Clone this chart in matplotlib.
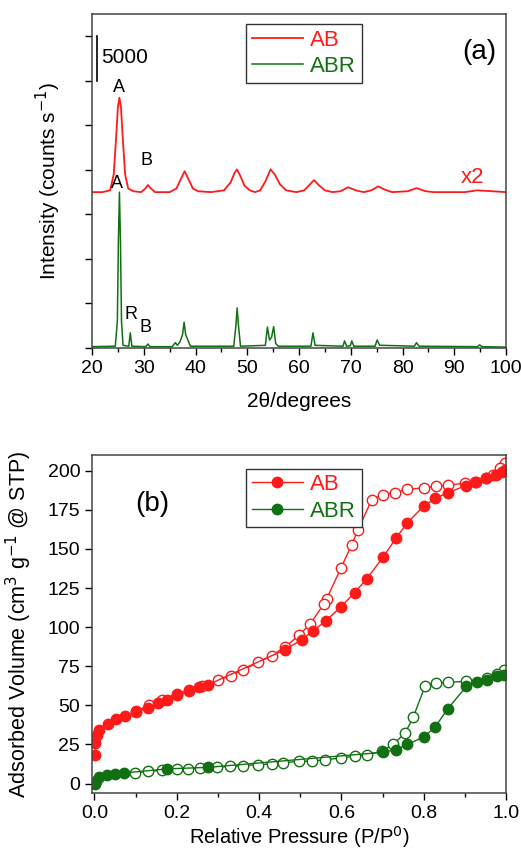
import numpy as np
import matplotlib.pyplot as plt
from matplotlib.ticker import MultipleLocator

plt.rcParams['font.family'] = ['Liberation Sans', 'DejaVu Sans']
plt.rcParams['font.size'] = 14

RED = '#ff1a1a'
GREEN = '#117011'

# (a) XRD, 2theta and intensity
abr_2t = [20, 24.5, 24.9, 25.1, 25.3, 25.5, 25.7, 26.0, 27.1, 27.4, 27.7, 30.4, 30.8, 31.2,
          35.5, 36.1, 36.5, 37.0, 37.5, 37.8, 38.1, 38.6, 39.0, 47.4, 47.8, 48.05, 48.3, 48.7,
          53.5, 53.9, 54.3, 54.7, 55.1, 55.5, 56.0, 62.3, 62.7, 63.1, 68.5, 68.8, 69.2, 69.9,
          70.2, 70.6, 74.7, 75.1, 75.6, 76.1, 82.3, 82.7, 83.2, 94.5, 94.9, 95.4, 100]
abr_int = [150, 200, 3000, 12000, 17500, 12000, 3000, 300, 200, 1700, 200, 150, 450, 150,
           150, 600, 300, 700, 1500, 2900, 1500, 800, 200, 200, 2500, 4500, 2500, 200,
           300, 2350, 900, 1200, 2400, 500, 200, 200, 1700, 300, 200, 800, 200, 250,
           800, 200, 200, 900, 300, 300, 200, 600, 200, 150, 350, 150, 100]

ab_2t = [20, 22, 23.5, 24.2, 24.7, 25.0, 25.3, 25.6, 25.9, 26.4, 27.0, 28, 29.5, 30.3, 30.8,
         31.4, 32.2, 35, 36.3, 37.2, 37.9, 38.6, 39.5, 40.5, 43, 45.5, 46.8, 47.5, 48.0, 48.6,
         49.5, 50.5, 51.5, 52.5, 53.5, 54.5, 55.3, 56.3, 57.5, 59.5, 61, 62, 62.9, 63.8, 65,
         66.5, 68, 69.5, 71, 72.5, 74, 75.3, 76.5, 78, 81, 82.7, 84.5, 86, 92, 94.5, 96, 100]
ab_int = [17500, 17500, 17700, 19500, 24000, 27000, 28100, 27000, 24000, 19500, 17900, 17600,
          17500, 17900, 18300, 17900, 17500, 17500, 17900, 19000, 19850, 19000, 17900, 17600,
          17500, 17700, 18600, 19600, 20050, 19400, 18200, 17700, 17500, 17700, 18700, 20050,
          19500, 18400, 17700, 17500, 17700, 18300, 18850, 18300, 17700, 17500, 17600, 18050,
          17700, 17500, 17700, 18150, 17800, 17500, 17600, 17950, 17600, 17500, 17500, 17700,
          17650, 17500]

# (b) N2 isotherms, adsorption (filled) and desorption (open)
ab_ads_p = [0.0005, 0.002, 0.006, 0.011, 0.032, 0.053, 0.074, 0.10, 0.13, 0.155, 0.176, 0.20,
            0.23, 0.255, 0.277, 0.463, 0.504, 0.532, 0.562, 0.599, 0.632, 0.662, 0.702, 0.733,
            0.760, 0.801, 0.828, 0.860, 0.902, 0.926, 0.951, 0.976, 0.99, 0.998]
ab_ads_v = [18.5, 26, 31, 34.5, 38, 41, 43, 45.5, 48.5, 51.5, 53.7, 56.5, 59, 61.5, 63.3, 85.6,
            92, 97.8, 104, 113, 122, 131, 145, 157, 166.6, 177.6, 182.3, 186, 190.4, 193, 195,
            197.4, 199, 200.6]
ab_des_p = [0.998, 0.985, 0.968, 0.951, 0.925, 0.90, 0.86, 0.83, 0.80, 0.759, 0.73, 0.70,
            0.674, 0.64, 0.625, 0.599, 0.564, 0.558, 0.524, 0.498, 0.463, 0.431, 0.398, 0.362,
            0.331, 0.301, 0.261, 0.23, 0.20, 0.164, 0.133, 0.101]
ab_des_v = [205, 201.7, 197, 195, 193, 192, 190.8, 190, 189, 188, 186, 184.7, 181.5, 162,
            152.7, 137.8, 118, 115, 102, 95, 87.3, 81.8, 77.5, 72.8, 69, 66, 62.6, 60, 57.3,
            53.7, 50.5, 46.2]

abr_ads_p = [0.0005, 0.003, 0.01, 0.03, 0.05, 0.072, 0.176, 0.277, 0.70, 0.733, 0.76, 0.80,
             0.828, 0.858, 0.904, 0.929, 0.955, 0.977, 0.995]
abr_ads_v = [0, 1.5, 4, 5.3, 6.2, 6.8, 9.4, 10.4, 20, 21.7, 25, 29.8, 36.2, 47.7, 62.2, 65,
             66.5, 68.6, 69.6]
abr_des_p = [0.995, 0.977, 0.953, 0.904, 0.86, 0.83, 0.803, 0.775, 0.755, 0.726, 0.698, 0.662,
             0.632, 0.60, 0.56, 0.528, 0.496, 0.459, 0.431, 0.398, 0.362, 0.33, 0.297, 0.257,
             0.228, 0.20, 0.164, 0.131, 0.099]
abr_des_v = [72.8, 70.3, 67.5, 65.4, 64.7, 64.3, 62.2, 42.6, 32.4, 25, 20.7, 18.5, 17.5, 16.4,
             15.3, 14.3, 14.3, 13.2, 12.6, 12.1, 11.5, 11, 10.6, 10, 9.6, 9.4, 8.5, 7.9, 6.8]

fig = plt.figure(figsize=(5.21, 8.49), dpi=100)
ax1 = fig.add_axes([92/521, 1-348/849, 414/521, 334/849])
ax2 = fig.add_axes([92/521, 1-793/849, 414/521, 338/849])

# ---- (a)
ax1.plot(ab_2t, ab_int, color=RED, lw=1.3, label='AB')
ax1.plot(abr_2t, abr_int, color=GREEN, lw=1.1, label='ABR')
ax1.set_xlim(20, 100)
ax1.set_ylim(0, 37500)
ax1.xaxis.set_major_locator(MultipleLocator(10))
ax1.xaxis.set_minor_locator(MultipleLocator(5))
ax1.yaxis.set_major_locator(MultipleLocator(5000))
ax1.set_yticklabels([])
ax1.set_xlabel('2θ/degrees', fontsize=15)
ax1.set_ylabel('Intensity (counts s$^{-1}$)', fontsize=15)
ax1.xaxis.set_label_coords(0.5, -0.132)
ax1.yaxis.set_label_coords(-0.07, 0.5)
ax1.plot([21, 21], [30000, 35000], color='k', lw=1.2)
ax1.text(21.8, 32600, '5000', ha='left', va='center', fontsize=15)
ax1.text(25.3, 29200, 'A', ha='center', va='center', fontsize=13)
ax1.text(30.6, 21100, 'B', ha='center', va='center', fontsize=13)
ax1.text(24.9, 18500, 'A', ha='center', va='center', fontsize=13)
ax1.text(27.6, 3800, 'R', ha='center', va='center', fontsize=13)
ax1.text(30.4, 2300, 'B', ha='center', va='center', fontsize=13)
ax1.text(91.3, 19170, 'x2', color=RED, ha='left', va='center', fontsize=16)
ax1.text(0.935, 0.885, '(a)', transform=ax1.transAxes, ha='center', va='center', fontsize=20)
leg1 = ax1.legend(loc='upper left', bbox_to_anchor=(0.372, 0.97), handlelength=2.3,
                  fancybox=False, edgecolor='#333333', framealpha=1, borderpad=0.25,
                  labelspacing=0.25, handletextpad=0.35, borderaxespad=0, fontsize=16)
for t, c in zip(leg1.get_texts(), [RED, GREEN]):
    t.set_color(c)

# ---- (b)
ms = 7.5
ax2.plot(ab_des_p, ab_des_v, 'o-', color=RED, mfc='white', mec=RED, ms=ms, lw=1, mew=1)
ax2.plot(abr_des_p, abr_des_v, 'o-', color=GREEN, mfc='white', mec=GREEN, ms=ms, lw=1, mew=1)
ax2.plot(ab_ads_p, ab_ads_v, 'o-', color=RED, mfc=RED, mec=RED, ms=ms, lw=1, label='AB')
ax2.plot(abr_ads_p, abr_ads_v, 'o-', color=GREEN, mfc=GREEN, mec=GREEN, ms=ms, lw=1,
         label='ABR')
ax2.set_xlim(-0.006, 1.0)
ax2.set_ylim(-6, 210)
ax2.xaxis.set_major_locator(MultipleLocator(0.2))
ax2.xaxis.set_minor_locator(MultipleLocator(0.1))
ax2.yaxis.set_major_locator(MultipleLocator(25))
ax2.set_xticklabels(['%.1f' % v for v in ax2.get_xticks()])
ax2.set_xlabel('Relative Pressure (P/P$^0$)', fontsize=14.5)
ax2.set_ylabel('Adsorbed Volume (cm$^3$ g$^{-1}$ @ STP)', fontsize=15.5)
ax2.xaxis.set_label_coords(0.5, -0.092)
ax2.yaxis.set_label_coords(-0.14, 0.5)
ax2.text(0.145, 0.855, '(b)', transform=ax2.transAxes, ha='center', va='center', fontsize=20)
leg2 = ax2.legend(loc='upper left', bbox_to_anchor=(0.372, 0.96), handlelength=2.3,
                  fancybox=False, edgecolor='#333333', framealpha=1, borderpad=0.25,
                  labelspacing=0.25, handletextpad=0.35, borderaxespad=0, fontsize=16)
for t, c in zip(leg2.get_texts(), [RED, GREEN]):
    t.set_color(c)

for ax in (ax1, ax2):
    ax.tick_params(which='both', direction='out', width=1, labelsize=14)
    ax.tick_params(which='major', length=5)
    ax.tick_params(which='minor', length=3)
    for s in ax.spines.values():
        s.set_color('#444444')
        s.set_linewidth(1.1)

fig.savefig('out.png', dpi=100)
